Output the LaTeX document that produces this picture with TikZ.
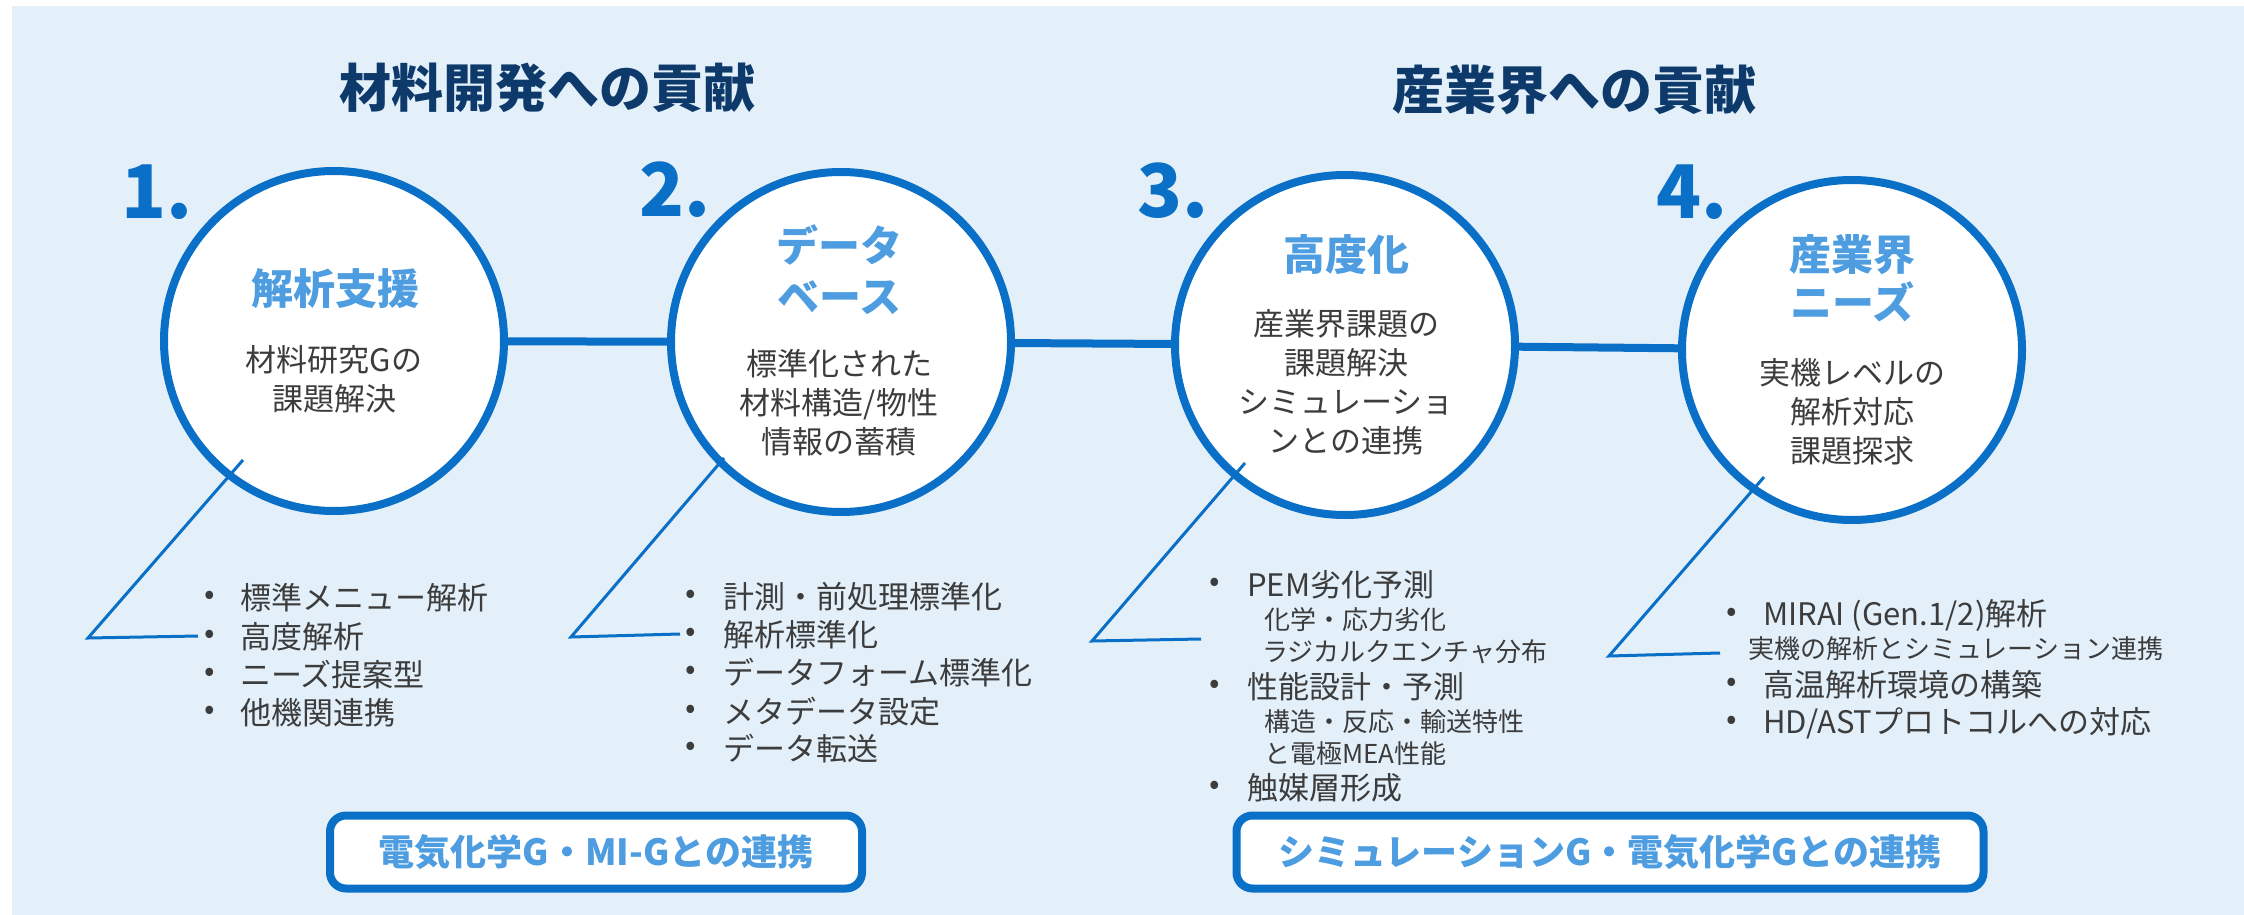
\documentclass[tikz,border=0pt]{standalone}
\usepackage{fontspec}
\setmainfont{Noto Sans CJK JP}
\definecolor{bgblue}{HTML}{E3F0FA}
\definecolor{lineblue}{HTML}{0A6FC6}
\definecolor{navy}{HTML}{0E3A6B}
\definecolor{lightblue}{HTML}{4D9DE0}
\definecolor{bodygray}{HTML}{3C3C3C}
\tikzset{
  bigcircle/.style={circle, draw=lineblue, line width=8pt, fill=white, minimum size=340pt, inner sep=0pt},
  link/.style={draw=lineblue, line width=8pt},
  leader/.style={draw=lineblue, line width=3pt},
  maintitle/.style={text=navy, font=\fontsize{52}{60}\selectfont\bfseries},
  numlabel/.style={text=lineblue, font=\fontsize{74}{80}\selectfont\bfseries, inner sep=0pt},
  ctitle/.style={text=lightblue, font=\fontsize{42}{50}\selectfont\bfseries, align=center, inner sep=0pt},
  csub/.style={text=bodygray, font=\fontsize{31}{39}\selectfont, align=center, inner sep=0pt},
  item/.style={text=bodygray, font=\fontsize{31}{38}\selectfont, anchor=west, inner sep=0pt},
  subitem/.style={text=bodygray, font=\fontsize{26}{32}\selectfont, anchor=west, inner sep=0pt},
  bullet/.style={text=bodygray, font=\fontsize{31}{38}\selectfont, inner sep=0pt},
  collab/.style={rectangle, rounded corners=16pt, draw=lineblue, line width=8pt, fill=white, minimum height=73pt, text=lightblue, font=\fontsize{36}{42}\selectfont\bfseries}
}
\begin{document}
\begin{tikzpicture}[x=1pt,y=-1pt]
\useasboundingbox (0,0) rectangle (2244,915);
\fill[white] (0,0) rectangle (2244,915);
\fill[bgblue] (12,6) rectangle (2244,915);

% titles
\node[maintitle] (t1) at (547,88) {材料開発への貢献};
\node[maintitle] (t2) at (1574,90) {産業界への貢献};

% circles
\node[bigcircle] (c1) at (334,341) {};
\node[bigcircle] (c2) at (841,342) {};
\node[bigcircle] (c3) at (1345,345) {};
\node[bigcircle] (c4) at (1852,350) {};
\draw[link] (c1) -- (c2);
\draw[link] (c2) -- (c3);
\draw[link] (c3) -- (c4);

% numbers
\node[numlabel] (n1) at (157,192) {1.};
\node[numlabel] (n2) at (675,190) {2.};
\node[numlabel] (n3) at (1173,191) {3.};
\node[numlabel] (n4) at (1692,192) {4.};

% circle texts
\node[ctitle] (h1) at (335,289) {解析支援};
\node[csub] (s1) at (334,379) {材料研究Gの\\課題解決};
\node[ctitle, font=\fontsize{42}{51}\selectfont\bfseries] (h2) at (839,270) {データ\\ベース};
\node[csub] (s2) at (839,403) {標準化された\\材料構造/物性\\情報の蓄積};
\node[ctitle] (h3) at (1346,255) {高度化};
\node[csub] (s3) at (1346,382) {産業界課題の\\課題解決\\シミュレーショ\\ンとの連携};
\node[ctitle, font=\fontsize{42}{48}\selectfont\bfseries] (h4) at (1852,278) {産業界\\ニーズ};
\node[csub] (s4) at (1852,412) {実機レベルの\\解析対応\\課題探求};

% list 1
\node[bullet] (b1a) at (210,598) {•};
\node[bullet] (b1b) at (210,637) {•};
\node[bullet] (b1c) at (210,675) {•};
\node[bullet] (b1d) at (210,713) {•};
\node[item] (i1a) at (240,598) {標準メニュー解析};
\node[item] (i1b) at (240,637) {高度解析};
\node[item] (i1c) at (240,675) {ニーズ提案型};
\node[item] (i1d) at (240,713) {他機関連携};

% list 2
\node[bullet] (b2a) at (691,597) {•};
\node[bullet] (b2b) at (691,635) {•};
\node[bullet] (b2c) at (691,673) {•};
\node[bullet] (b2d) at (691,712) {•};
\node[bullet] (b2e) at (691,749) {•};
\node[item] (i2a) at (723,597) {計測・前処理標準化};
\node[item] (i2b) at (723,635) {解析標準化};
\node[item] (i2c) at (723,673) {データフォーム標準化};
\node[item] (i2d) at (723,712) {メタデータ設定};
\node[item] (i2e) at (723,749) {データ転送};

% list 3
\node[bullet] (b3a) at (1215,585) {•};
\node[bullet] (b3b) at (1215,687) {•};
\node[bullet] (b3c) at (1215,788) {•};
\node[item] (i3a) at (1247,585) {PEM劣化予測};
\node[subitem] (i3a1) at (1264,620) {化学・応力劣化};
\node[subitem] (i3a2) at (1262,652) {ラジカルクエンチャ分布};
\node[item] (i3b) at (1247,687) {性能設計・予測};
\node[subitem] (i3b1) at (1264,722) {構造・反応・輸送特性};
\node[subitem] (i3b2) at (1264,754) {と電極MEA性能};
\node[item] (i3c) at (1247,788) {触媒層形成};

% list 4
\node[bullet] (b4a) at (1732,615) {•};
\node[bullet] (b4b) at (1732,685) {•};
\node[bullet] (b4c) at (1732,723) {•};
\node[item] (i4a) at (1763,615) {MIRAI (Gen.1/2)解析};
\node[subitem] (i4a1) at (1748,649) {実機の解析とシミュレーション連携};
\node[item] (i4b) at (1763,685) {高温解析環境の構築};
\node[item] (i4c) at (1763,723) {HD/ASTプロトコルへの対応};

% leaders
\coordinate (p1s) at (243,460); \coordinate (p1m) at (88,638); \coordinate (p1e) at (198,636);
\coordinate (p2s) at (724,458); \coordinate (p2m) at (571,637); \coordinate (p2e) at (680,634);
\coordinate (p3s) at (1245,463); \coordinate (p3m) at (1092,641); \coordinate (p3e) at (1201,639);
\coordinate (p4s) at (1764,477); \coordinate (p4m) at (1609,656); \coordinate (p4e) at (1720,653);
\draw[leader] (p1s) -- (p1m) -- (p1e);
\draw[leader] (p2s) -- (p2m) -- (p2e);
\draw[leader] (p3s) -- (p3m) -- (p3e);
\draw[leader] (p4s) -- (p4m) -- (p4e);

% collaboration boxes
\node[collab, minimum width=532pt] (k1) at (596,852) {電気化学G・MI-Gとの連携};
\node[collab, minimum width=747pt] (k2) at (1610,852) {シミュレーションG・電気化学Gとの連携};
\end{tikzpicture}
\end{document}
